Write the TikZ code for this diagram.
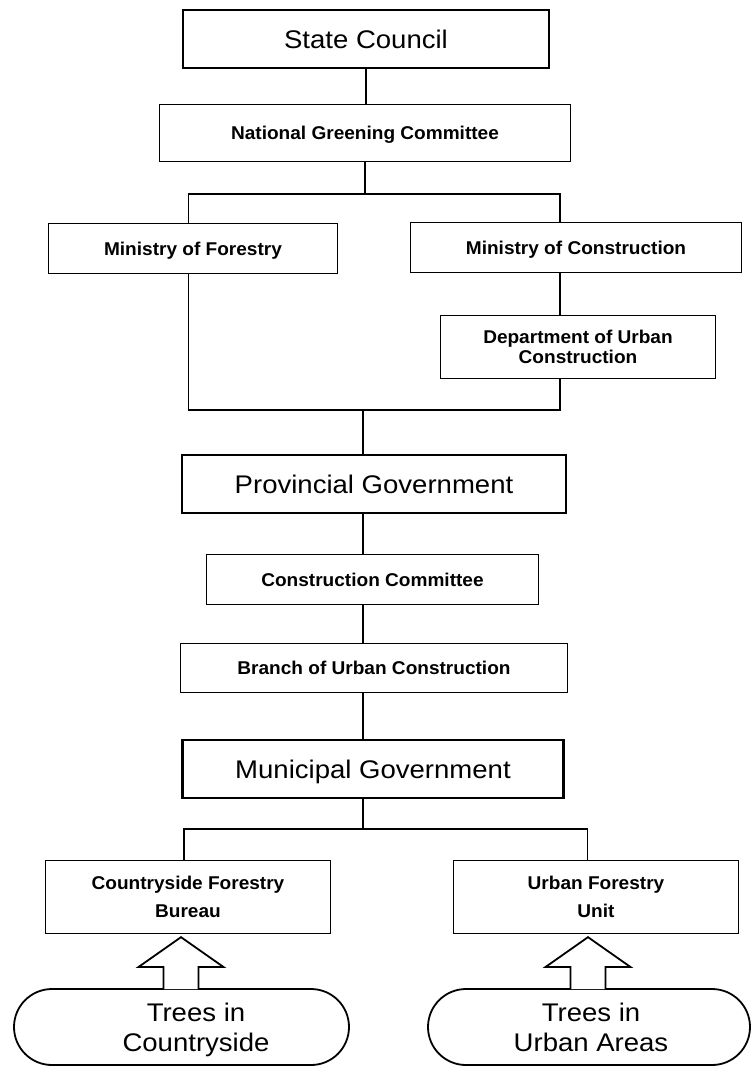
\documentclass[tikz,border=0pt]{standalone}
\usepackage{fontspec}
\newfontfamily\bigfont[FakeStretch=1.08]{Liberation Sans}
\newfontfamily\smallfont[FakeStretch=1.03,UprightFont=* Bold]{Liberation Sans}
\usetikzlibrary{calc,shapes.misc}
\begin{document}
\begin{tikzpicture}[x=1pt,y=1pt,
  box/.style={draw, line width=1.3pt, inner sep=0pt, align=center,
    font=\smallfont\fontsize{18.5}{20.5}\selectfont},
  onebox/.style={box, text height=13.2pt, text depth=0pt},
  bigbox/.style={draw, line width=2.8pt, inner sep=0pt,
    font=\bigfont\fontsize{25.5}{28}\selectfont, text height=18.4pt, text depth=0pt},
  oval/.style={draw, line width=1.8pt, rounded rectangle, inner sep=0pt},
  ovaltext/.style={inner sep=0pt, align=center, font=\bigfont\fontsize{25.5}{30}\selectfont},
  conn/.style={line width=1.3pt},
  barrow/.style={line width=1.8pt, fill=white, line join=miter}
]
\useasboundingbox (0,0) rectangle (752,-1066);

% boxes
\node[bigbox, minimum width=366pt, minimum height=58pt] (SC) at (366,-39) {State Council};
\node[onebox, minimum width=411pt, minimum height=57pt] (NGC) at (365,-133) {National Greening Committee};
\node[onebox, minimum width=289pt, minimum height=50pt] (MoF) at (193,-248.5) {Ministry of Forestry};
\node[onebox, minimum width=331pt, minimum height=50pt] (MoC) at (576,-247.5) {Ministry of Construction};
\node[box, minimum width=275pt, minimum height=63pt] (Dept) at (578,-347) {Department of Urban\\Construction};
\node[bigbox, minimum width=384pt, minimum height=58pt] (Prov) at (374,-484) {Provincial Government};
\node[onebox, minimum width=332pt, minimum height=50pt] (CC) at (372.5,-579.5) {Construction Committee};
\node[onebox, minimum width=387pt, minimum height=49pt] (Branch) at (374,-668) {Branch of Urban Construction};
\node[bigbox, minimum width=381pt, minimum height=58pt] (Muni) at (373,-769) {Municipal Government};
\node[box, minimum width=285pt, minimum height=73pt,
  font=\smallfont\fontsize{18.5}{28}\selectfont] (CFB) at (188,-897) {Countryside Forestry\\Bureau};
\node[box, minimum width=285pt, minimum height=73pt,
  font=\smallfont\fontsize{18.5}{28}\selectfont] (UFU) at (596,-897) {Urban Forestry\\Unit};

% ovals
\node[oval, minimum width=335pt, minimum height=76pt] (ovL) at (181.5,-1027) {};
\node[ovaltext] (ovLt) at (196,-1030) {Trees in\\Countryside};
\node[oval, minimum width=322pt, minimum height=76pt] (ovR) at (589,-1027) {};
\node[ovaltext] (ovRt) at (591,-1027) {Trees in\\Urban Areas};

% junction coordinates
\coordinate (n1) at (188.5,-194);
\coordinate (n2) at (560,-194);
\coordinate (m1) at (188.5,-410);
\coordinate (m2) at (560,-410);
\coordinate (m0) at (363,-410);
\coordinate (q1) at (184,-829);
\coordinate (q2) at (587.5,-829);
\coordinate (aL) at (181,-989);
\coordinate (aR) at (588,-989);

% connectors
\draw[conn] (SC.south) -- (SC.south |- NGC.north);
\draw[conn] (NGC.south) -- (NGC.south |- n1);
\draw[conn] (n1 |- MoF.north) -- (n1) -- (n2) -- (n2 |- MoC.north);
\draw[conn] (n2 |- MoC.south) -- (n2 |- Dept.north);
\draw[conn] (m1 |- MoF.south) -- (m1) -- (m2) -- (m2 |- Dept.south);
\draw[conn] (m0) -- (m0 |- Prov.north);
\draw[conn] (m0 |- Prov.south) -- (m0 |- CC.north);
\draw[conn] (m0 |- CC.south) -- (m0 |- Branch.north);
\draw[conn] (m0 |- Branch.south) -- (m0 |- Muni.north);
\draw[conn] (m0 |- Muni.south) -- (m0 |- q1);
\draw[conn] (q1 |- CFB.north) -- (q1) -- (q2) -- (q2 |- UFU.north);

% block arrows
\draw[barrow] ($(aL)+(-17.5,0)$) -- ++(0,22) -- ++(-25,0)
  -- ($(aL |- CFB.south)+(0,-3)$) -- ($(aL)+(42.5,22)$) -- ++(-25,0) -- ++(0,-22);
\draw[barrow] ($(aR)+(-17.5,0)$) -- ++(0,22) -- ++(-25,0)
  -- ($(aR |- UFU.south)+(0,-3)$) -- ($(aR)+(42.5,22)$) -- ++(-25,0) -- ++(0,-22);
\end{tikzpicture}
\end{document}
